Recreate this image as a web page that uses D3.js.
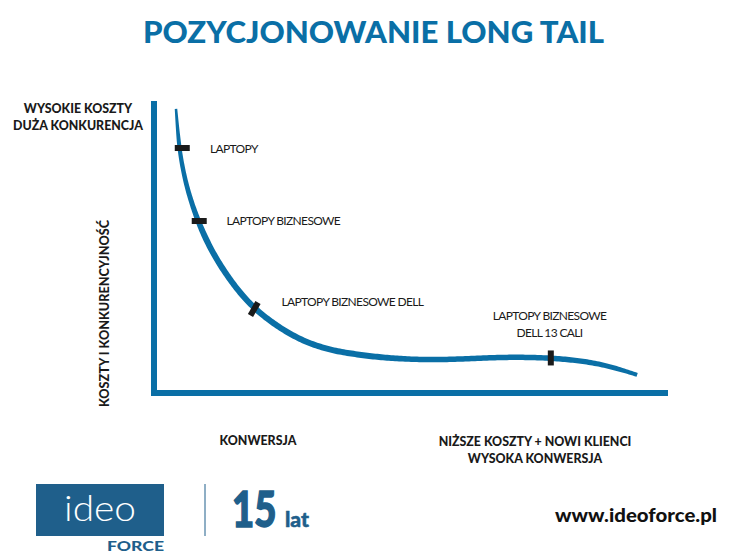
<!DOCTYPE html>
<html>
<head>
<meta charset="utf-8">
<script src="https://cdn.jsdelivr.net/npm/d3@7"></script>
<style>
  html, body { margin: 0; padding: 0; background: #fff; }
  svg { display: block; }
  text { font-family: Lato, "Open Sans", sans-serif; }
</style>
</head>
<body>
<div id="chart"></div>
<script>
// values, both axes on a 0-100 scale (the original has no numbers)
const curveX = [4.28, 4.73, 5.19, 6.36, 8.62, 11.54, 15.43, 19.3, 23.9, 27.8, 30.9, 34.2, 37.5, 44, 52.3, 60.1, 67.3, 77.2, 86.8, 94];
const curveY = [97.3, 87.3, 80.5, 70.2, 58.2, 47.3, 37, 29.1, 22.9, 18.9, 16.6, 14.8, 13.7, 12.1, 11.3, 11.6, 12.3, 12.2, 10.3, 6.2];
const curveWidth = [2.5, 4, 4.5, 5, 6, 6, 6, 6, 6, 6, 6, 6, 5.5, 5.5, 5.5, 5.5, 5.5, 5.5, 5, 4];

const markerX = [5.5, 8.8, 19.5, 77.2];
const markerY = [83.9, 58.9, 28.8, 12];
const markerAngle = [0, 0, -60, 90];
const markerLabels = [["LAPTOPY"], ["LAPTOPY BIZNESOWE"], ["LAPTOPY BIZNESOWE DELL"], ["LAPTOPY BIZNESOWE", "DELL 13 CALI"]];

const title = "POZYCJONOWANIE LONG TAIL";
const yTopLabel = ["WYSOKIE KOSZTY", "DUŻA KONKURENCJA"];
const yLabel = "KOSZTY I KONKURENCYJNOŚĆ";
const xLeftLabel = "KONWERSJA";
const xRightLabel = ["NIŻSZE KOSZTY + NOWI KLIENCI", "WYSOKA KONWERSJA"];

const blue = "#0a6fa6";
const logoBlue = "#1f5f8b";
const dark = "#1a1a1a";

const svg = d3.select("#chart").append("svg").attr("width", 750).attr("height", 560);

const x = d3.scaleLinear().domain([0, 100]).range([154, 668]);
const y = d3.scaleLinear().domain([0, 100]).range([393, 101]);

// title
svg.append("text").attr("x", 373.5).attr("y", 43)
  .attr("text-anchor", "middle").attr("fill", blue)
  .attr("font-size", 31).attr("font-weight", 900)
  .attr("textLength", 461).attr("lengthAdjust", "spacingAndGlyphs")
  .text(title);

// axes
svg.append("line").attr("x1", x(0)).attr("x2", x(0)).attr("y1", y(100)).attr("y2", y(0) + 3)
  .attr("stroke", blue).attr("stroke-width", 6);
svg.append("line").attr("x1", x(0) - 3).attr("x2", x(100)).attr("y1", y(0)).attr("y2", y(0))
  .attr("stroke", blue).attr("stroke-width", 6);

// the curve gets thicker along its length, so sample it and build an outline
const pts = curveX.map((d, i) => [x(d), y(curveY[i])]);
const smooth = d3.line().curve(d3.curveBasis);
const guide = svg.append("path").attr("d", smooth(pts)).attr("fill", "none").node();
const total = guide.getTotalLength();

// curve width runs along the path, one width per data point
const widthAt = d3.scaleLinear()
  .domain(curveWidth.map((d, i) => total * i / (curveWidth.length - 1)))
  .range(curveWidth);

const left = [], right = [];
for (let l = 0; l <= total; l += 2) {
  const a = guide.getPointAtLength(Math.max(0, l - 1));
  const b = guide.getPointAtLength(Math.min(total, l + 1));
  const p = guide.getPointAtLength(l);
  const t = Math.atan2(b.y - a.y, b.x - a.x);
  const w = widthAt(l) / 2;
  left.push([p.x - Math.sin(t) * w, p.y + Math.cos(t) * w]);
  right.push([p.x + Math.sin(t) * w, p.y - Math.cos(t) * w]);
}
svg.append("path").attr("d", d3.line()(left.concat(right.reverse())) + "Z").attr("fill", blue);

// markers on the curve
svg.selectAll("rect.marker").data(markerX).enter().append("rect")
  .attr("class", "marker")
  .attr("x", -7.5).attr("y", -3).attr("width", 15).attr("height", 6)
  .attr("fill", dark)
  .attr("transform", (d, i) => `translate(${x(d)},${y(markerY[i])}) rotate(${markerAngle[i]})`);

// marker labels
const labelPos = [[210, 152.5], [226.5, 224.5], [281.5, 305.5], [549.5, 320]];
markerLabels.forEach((lines, i) => {
  const t = svg.append("text").attr("font-size", 12).attr("fill", dark)
    .attr("letter-spacing", -0.65)
    .attr("text-anchor", lines.length > 1 ? "middle" : "start");
  lines.forEach((s, j) => {
    t.append("tspan").attr("x", labelPos[i][0]).attr("y", labelPos[i][1] + j * 17).text(s);
  });
});

// bold axis captions
function caption(lines, cx, top, dy) {
  const t = svg.append("text").attr("text-anchor", "middle").attr("font-size", 12.4)
    .attr("font-weight", 900).attr("fill", dark);
  lines.forEach((s, j) => t.append("tspan").attr("x", cx).attr("y", top + j * dy).text(s));
}
caption(yTopLabel, 78, 113, 17);
caption([xLeftLabel], 258, 445, 0);
caption(xRightLabel, 535, 446, 17);

svg.append("text").attr("transform", "translate(109,313.5) rotate(-90)")
  .attr("text-anchor", "middle").attr("font-size", 12.4).attr("font-weight", 900)
  .attr("fill", dark)
  .attr("textLength", 187).attr("lengthAdjust", "spacingAndGlyphs")
  .text(yLabel);

// footer logo
svg.append("rect").attr("x", 36).attr("y", 484).attr("width", 128).attr("height", 52).attr("fill", logoBlue);
svg.append("text").attr("x", 100).attr("y", 521).attr("text-anchor", "middle")
  .attr("font-size", 36).attr("font-weight", 300).attr("fill", "#fff")
  .attr("textLength", 72).attr("lengthAdjust", "spacingAndGlyphs").text("ideo");
svg.append("text").attr("x", 164).attr("y", 551).attr("text-anchor", "end")
  .attr("font-size", 12.5).attr("font-weight", 900).attr("fill", logoBlue)
  .attr("textLength", 57).attr("lengthAdjust", "spacingAndGlyphs").text("FORCE");
svg.append("line").attr("x1", 205).attr("x2", 205).attr("y1", 484).attr("y2", 536)
  .attr("stroke", logoBlue).attr("stroke-width", 1);
// scaled rather than textLength, the "15" box would otherwise run into "lat"
svg.append("text").attr("transform", "translate(232,527) scale(0.78,1)")
  .attr("font-size", 49).attr("font-weight", 900).attr("fill", logoBlue)
  .attr("stroke", logoBlue).attr("stroke-width", 1.5).text("15");
svg.append("text").attr("x", 285).attr("y", 527)
  .attr("font-size", 20).attr("font-weight", 900).attr("fill", logoBlue)
  .attr("stroke", logoBlue).attr("stroke-width", 0.5)
  .attr("textLength", 24).attr("lengthAdjust", "spacingAndGlyphs").text("lat");
svg.append("text").attr("x", 717).attr("y", 522).attr("text-anchor", "end")
  .attr("font-size", 18.5).attr("font-weight", 900).attr("fill", "#111")
  .attr("textLength", 162).attr("lengthAdjust", "spacingAndGlyphs").text("www.ideoforce.pl");
</script>
</body>
</html>
